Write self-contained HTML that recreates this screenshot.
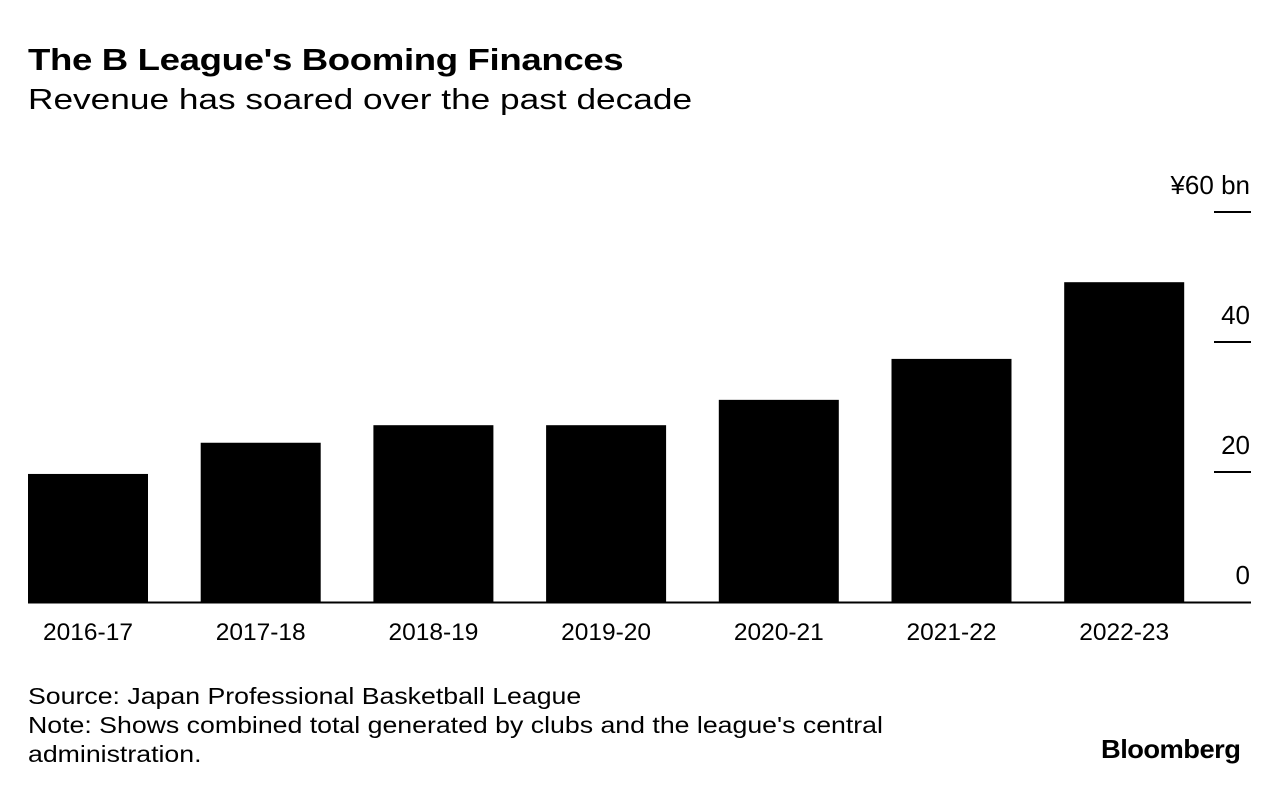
<!DOCTYPE html>
<html><head><meta charset="utf-8"><style>
body{margin:0;background:#fff;width:1279px;height:794px;overflow:hidden;font-family:"Liberation Sans",sans-serif;color:#000}
.t{position:absolute;white-space:nowrap;transform-origin:0 0}
</style></head><body>
<div class="t" style="left:28px;top:42px;font-size:31px;font-weight:bold;letter-spacing:-0.3px;transform:scaleX(1.18)">The B League's Booming Finances</div>
<div class="t" style="left:28px;top:84px;font-size:29px;transform:scaleX(1.215)">Revenue has soared over the past decade</div>
<svg id="c" width="1279" height="794" style="position:absolute;left:0;top:0"></svg>
<div class="t" style="left:28px;top:682px;font-size:23px;line-height:29px;transform:scaleX(1.16)">Source: Japan Professional Basketball League<br>Note: Shows combined total generated by clubs and the league's central<br>administration.</div>
<div class="t" style="left:1101px;top:734px;font-size:26px;font-weight:bold;letter-spacing:-0.5px;transform:scaleX(1.05)">Bloomberg</div>
<script>
const categories=["2016-17","2017-18","2018-19","2019-20","2020-21","2021-22","2022-23"];
const revenue=[19.7,24.5,27.2,27.2,31.1,37.4,49.2];
const tickValues=[0,20,40,60];
const tickLabels=["0","20","40","¥60 bn"];
const NS="http://www.w3.org/2000/svg";
const svg=document.getElementById('c');
const y0=602,pxPerUnit=(602-212)/60;
const y=v=>y0-v*pxPerUnit;
const x=i=>28+i*172.7;
const bw=120;
function mk(t,a){const e=document.createElementNS(NS,t);for(const k in a)e.setAttribute(k,a[k]);svg.appendChild(e);return e;}
tickValues.forEach((v,i)=>{
  if(v>0){const l=mk('line',{x1:1214,x2:1251,y1:y(v),y2:y(v),stroke:'#000','stroke-width':2});
  
  }
  const t=mk('text',{x:1250,y:y(v)-18,'text-anchor':'end','font-size':26,'font-family':'Liberation Sans'});
  t.textContent=tickLabels[i];
  
  
});
categories.forEach((c,i)=>{
  const r=mk('rect',{x:x(i),y:y(revenue[i]),width:bw,height:y0-y(revenue[i]),fill:'#000'});
  
  
  const t=mk('text',{x:x(i)+bw/2,y:640,'text-anchor':'middle','font-size':24.5,'font-family':'Liberation Sans'});
  t.textContent=c;
  
  
});
const b=mk('line',{x1:28,x2:1251,y1:y0+0.5,y2:y0+0.5,stroke:'#000','stroke-width':2});


</script>
</body></html>
